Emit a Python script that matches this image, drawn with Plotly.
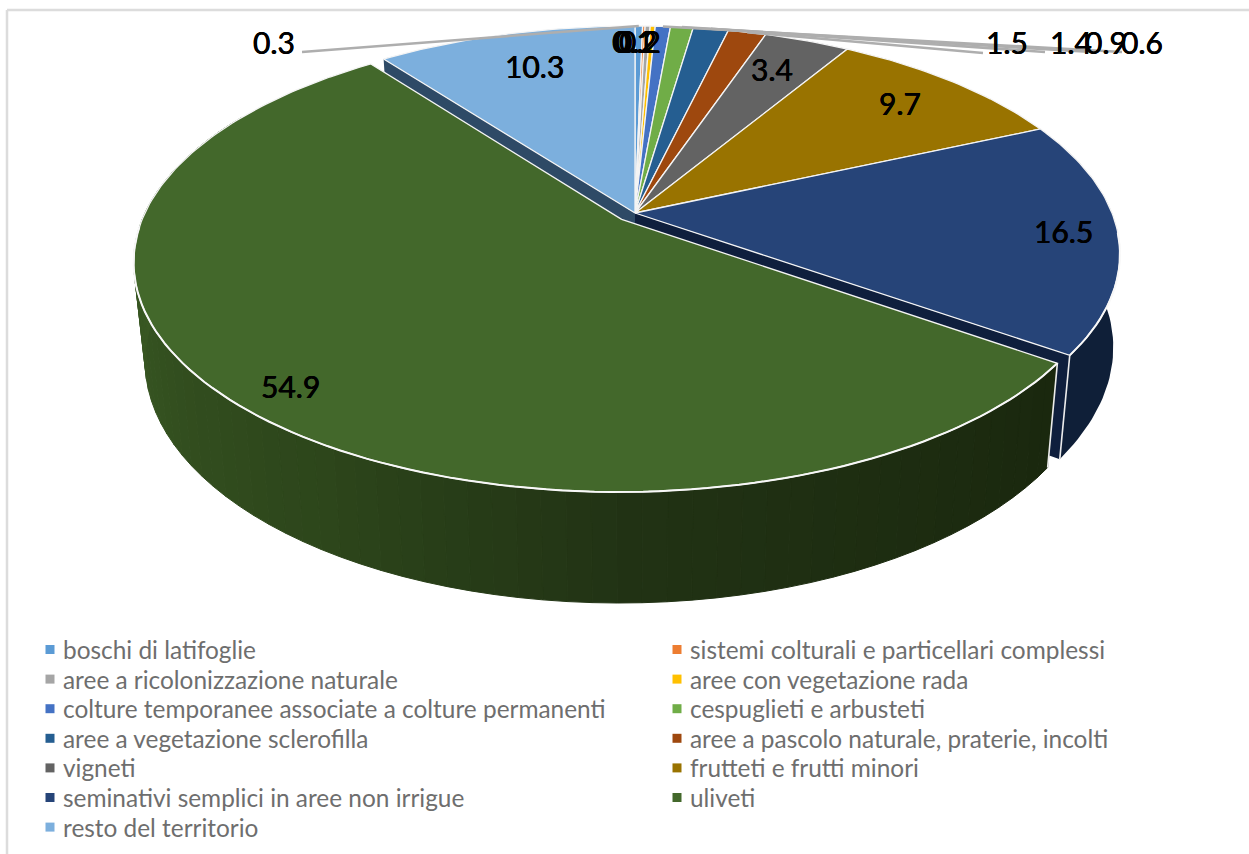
import math
import plotly.graph_objects as go

# ---- data ----
categories = ["boschi di latifoglie", "sistemi colturali e particellari complessi",
              "aree a ricolonizzazione naturale", "aree con vegetazione rada",
              "colture temporanee associate a colture permanenti", "cespuglieti e arbusteti",
              "aree a vegetazione sclerofilla", "aree a pascolo naturale, praterie, incolti",
              "vigneti", "frutteti e frutti minori",
              "seminativi semplici in aree non irrigue", "uliveti", "resto del territorio"]
values = [0.3, 0.1, 0.2, 0.2, 0.6, 0.9, 1.4, 1.5, 3.4, 9.7, 16.5, 54.9, 10.3]
colors = ["#5b9bd5", "#ed7d31", "#a5a5a5", "#ffc000", "#4472c4", "#70ad47", "#255e91",
          "#9e480e", "#636363", "#997300", "#264478", "#43682b", "#7cafdd"]

# ---- layout of the drawing (perspective of the tilted pie) ----
CX, R, B, A, C = 635.0, 477.0, 213.0, -182.3, 0.1806
LOW_X, LOW_Y, LOW_OFF = 0.977, 1.053, 85.0
EXPLODE = {"uliveti": 0.04}
label_pix = {"boschi di latifoglie": (274, 42), "sistemi colturali e particellari complessi": (633, 41),
             "aree a ricolonizzazione naturale": (636, 41), "aree con vegetazione rada": (640, 41),
             "colture temporanee associate a colture permanenti": (1142, 42),
             "cespuglieti e arbusteti": (1106, 42), "aree a vegetazione sclerofilla": (1071, 42),
             "aree a pascolo naturale, praterie, incolti": (1007, 42), "vigneti": (772, 69),
             "frutteti e frutti minori": (900, 103), "seminativi semplici in aree non irrigue": (1063, 231),
             "uliveti": (290, 386), "resto del territorio": (534, 66)}
leader_end = {"boschi di latifoglie": (302, 52), "colture temporanee associate a colture permanenti": (1122, 52),
              "cespuglieti e arbusteti": (1092, 52), "aree a vegetazione sclerofilla": (1045, 52),
              "aree a pascolo naturale, praterie, incolti": (983, 53)}
LEG_MARK_X, LEG_TEXT_X, LEG_Y0, LEG_DY = (50, 677), (62, 689), 649.5, 29.6
wall_shade = [(0.0, (26, 40, 14)), (0.3, (33, 50, 20)), (0.49, (45, 70, 27)), (0.83, (58, 90, 36)), (1.0, (58, 90, 36))]


def proj(theta, rad=1.0, ex=0.0, mid=0.0, low=False):
    X = rad * math.sin(theta) + ex * math.sin(mid)
    Y = rad * math.cos(theta) + ex * math.cos(mid)
    w = 1 + C * Y
    x = CX + R * X / w
    y = (B + A * Y) / w
    if low:
        sx = LOW_X
        if X > 0 and Y > -0.58:
            sx = LOW_X + 0.0224 * (Y + 0.58)
        x = CX + (x - CX) * sx
        y = LOW_Y * y + LOW_OFF
    return x, y


def arc(a0, a1, n, **kw):
    return [proj(a0 + (a1 - a0) * i / n, **kw) for i in range(n + 1)]


def poly(fig, pts, fill, line="rgba(0,0,0,0)", width=0):
    fig.add_trace(go.Scatter(x=[p[0] for p in pts] + [pts[0][0]], y=[p[1] for p in pts] + [pts[0][1]],
                             mode="lines", fill="toself", fillcolor=fill,
                             line=dict(color=line, width=width), hoverinfo="skip", showlegend=False))


def path(fig, pts, color, width):
    fig.add_trace(go.Scatter(x=[p[0] for p in pts], y=[p[1] for p in pts], mode="lines",
                             line=dict(color=color, width=width), hoverinfo="skip", showlegend=False))


def shade(t):
    for (t0, c0), (t1, c1) in zip(wall_shade, wall_shade[1:]):
        if t <= t1:
            f = (t - t0) / (t1 - t0)
            return "rgb(%d,%d,%d)" % tuple(round(a + (b - a) * f) for a, b in zip(c0, c1))
    return "rgb(%d,%d,%d)" % wall_shade[-1][1]


fig = go.Figure()
total = sum(values)
spans, acc = {}, 0.0
for name, v in zip(categories, values):
    a0 = acc / total * 2 * math.pi
    acc += v
    spans[name] = (a0, acc / total * 2 * math.pi)

sem = spans["seminativi semplici in aree non irrigue"]
uli = spans["uliveti"]
res = spans["resto del territorio"]
mid_u = (uli[0] + uli[1]) / 2
e_u = EXPLODE["uliveti"]

# cut faces seen through the gaps
poly(fig, [proj(res[0]), proj(res[0], rad=0.0), proj(res[0], rad=0.0, low=True), proj(res[0], low=True)], "#2e4a66")
poly(fig, [proj(sem[1]), proj(sem[1], rad=0.0), proj(sem[1], rad=0.0, low=True), proj(sem[1], low=True)], "#0f1f3d")
# outer wall of the seminativi slice
poly(fig, arc(sem[0], sem[1], 50) + arc(sem[1], sem[0], 50, low=True), "#0f1f38")
path(fig, [proj(sem[1]), proj(sem[1], low=True)], "#ececec", 1.6)

# outer wall of the uliveti slice, shaded in steps
wall_end = math.radians(300)
N = 70
kw_u = dict(ex=e_u, mid=mid_u)
for i in range(N):
    a = uli[0] + (wall_end - uli[0]) * i / N
    b = uli[0] + (wall_end - uli[0]) * (i + 1) / N
    col = shade(i / N)
    poly(fig, [proj(a, **kw_u), proj(b, **kw_u), proj(b, low=True, **kw_u), proj(a, low=True, **kw_u)], col, col, 1)
path(fig, [proj(uli[0], **kw_u), proj(uli[0], low=True, **kw_u)], "#ececec", 1.6)

# top faces
for name, col in zip(categories, colors):
    a0, a1 = spans[name]
    kw = kw_u if name == "uliveti" else {}
    n = max(3, int((a1 - a0) * 60))
    pts = [proj(a0, rad=0.0, **kw)] + arc(a0, a1, n, **kw)
    poly(fig, pts, col, "#f4f4f4", 1.3)

# white rim above the visible walls
path(fig, arc(uli[0], math.radians(268), 90, **kw_u), "#f8f8f8", 2)
path(fig, arc(math.radians(95), sem[1], 20), "#f8f8f8", 2)

# leader lines
for name, end in leader_end.items():
    a0, a1 = spans[name]
    m = (a0 + a1) / 2
    path(fig, [proj(m), end], "#aeaeae", 2.5)

# data labels
for name, v in zip(categories, values):
    x, y = label_pix[name]
    fig.add_annotation(x=x, y=y, xref="x", yref="y", text=f"{v:.1f}", showarrow=False,
                       font=dict(family="Lato", size=30, color="#000000",
                                 shadow="0.3px 0 0 #000000, -0.3px 0 0 #000000"))

# legend: two columns, filled row by row
for i, (name, col) in enumerate(zip(categories, colors)):
    c, r = i % 2, i // 2
    yy = LEG_Y0 + r * LEG_DY
    fig.add_trace(go.Scatter(x=[LEG_MARK_X[c]], y=[yy], mode="markers", name=name, showlegend=False,
                             marker=dict(symbol="square", size=9, color=col), hoverinfo="skip"))
    fig.add_annotation(x=LEG_TEXT_X[c], y=yy, xref="x", yref="y", text=name, showarrow=False,
                       xanchor="left", xshift=-1, font=dict(family="Lato", size=24.4, color="#6e6e6e"))

fig.update_layout(
    width=1249, height=854, margin=dict(l=0, r=0, t=0, b=0, autoexpand=False),
    paper_bgcolor="white", plot_bgcolor="white",
    xaxis=dict(range=[0, 1249], visible=False, fixedrange=True),
    yaxis=dict(range=[854, 0], visible=False, fixedrange=True),
    showlegend=False,
    shapes=[dict(type="line", xref="x", yref="y", x0=7, x1=1249, y0=10, y1=10, line=dict(color="#dcdcdc", width=2.5)),
            dict(type="line", xref="x", yref="y", x0=7, x1=7, y0=10, y1=854, line=dict(color="#dcdcdc", width=2.5))],
)
fig.write_html("out.html", post_script="document.body.style.margin='0';", config=dict(displayModeBar=False))
